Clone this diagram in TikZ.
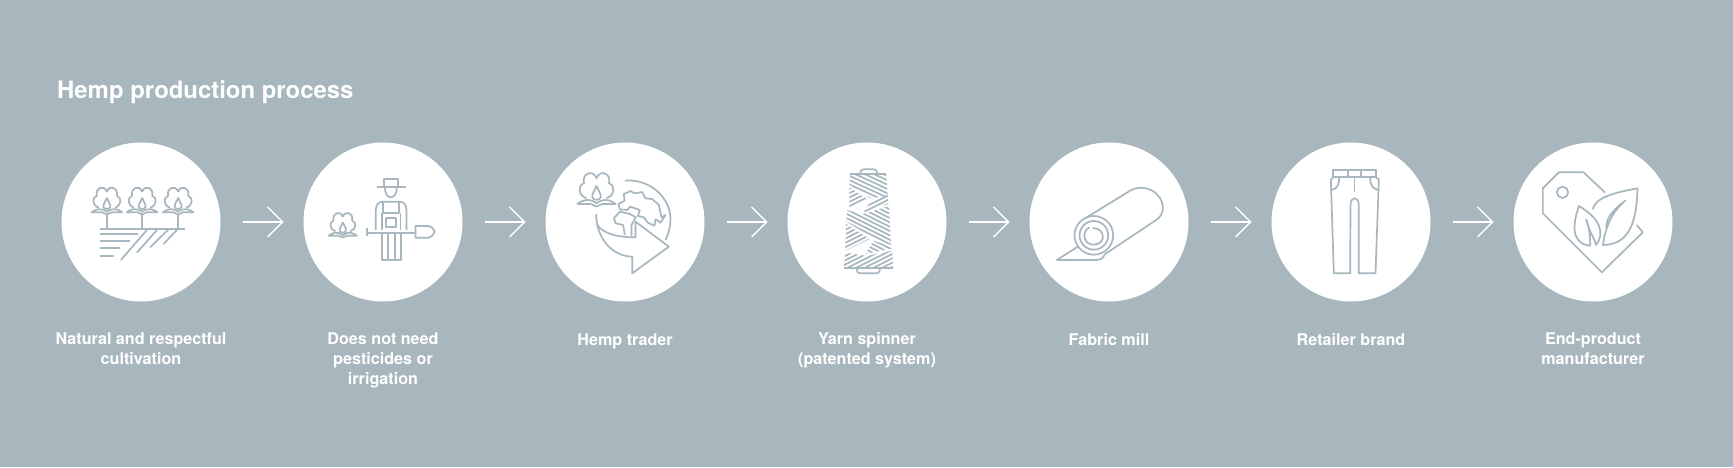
\documentclass[tikz,border=0pt]{standalone}
\usepackage{fontspec}
\setsansfont{TeX Gyre Heros}
\usetikzlibrary{arrows.meta}
\usetikzlibrary{positioning}
\usetikzlibrary{chains}
\definecolor{hempgrey}{HTML}{A7B7BD}
\tikzset{every picture/.style={/utils/exec={\sffamily\bfseries}}}
\tikzset{
  stepcircle/.style={on chain, circle, fill=white, inner sep=0pt, outer sep=0pt, minimum size=159pt},
  steplabel/.style={text=white, inner sep=0pt, align=center, font=\fontsize{16.15}{20}\selectfont, execute at begin node=\strut},
  steparrow/.style={draw=white, line width=1.3pt, shorten <=22pt, shorten >=20pt, -{Straight Barb[length=15pt,width=30pt]}},
  iconline/.style={draw=hempgrey, line width=1.7pt, line join=round}
}
% a crop pixel of the reference is a third of a point, (#2,#3) is the circle centre in the crop
\newcommand{\iconFrame}[3]{\begin{scope}[shift={(#1.center)}, x=0.3333pt, y=-0.3333pt, shift={(-#2,-#3)}]}
\newcommand{\cottonBoll}[3]{
  \begin{scope}[shift={(#1,#2)}, scale=#3]
    \draw[iconline] (-24,-14) .. controls (-44,-20) and (-46,-44) .. (-30,-50)
      .. controls (-36,-74) and (-8,-84) .. (0,-62)
      .. controls (8,-84) and (36,-74) .. (30,-50)
      .. controls (46,-44) and (44,-20) .. (24,-14);
    \draw[iconline] (0,-44) .. controls (-4,-32) and (-12,-24) .. (-10,-16) .. controls (-8,-8) and (8,-8) .. (10,-16) .. controls (12,-24) and (4,-32) .. (0,-44);
    \draw[iconline] (-46,0) .. controls (-36,-8) and (-20,-16) .. (0,-2) .. controls (20,-16) and (36,-8) .. (46,0) -- (14,0) -- (0,6) -- (-14,0) -- cycle;
  \end{scope}
}
\newcommand{\iconFields}[1]{
  \iconFrame{#1}{302.5}{276}
    \foreach \x in {200,306,414} {
      \cottonBoll{\x}{247}{1}
      \draw[iconline] (\x,252) -- (\x,296);
    }
    \draw[iconline] (178,296) -- (435,296);
    \foreach \y/\e in {312/292,333/270,355/240,378/222}
      \draw[iconline] (178,\y) -- (\e,\y);
    \draw[iconline] (322,298) -- (242,390);
    \draw[iconline] (352,298) -- (290,368);
    \draw[iconline] (385,298) -- (330,352);
    \draw[iconline] (412,298) -- (370,342);
  \end{scope}
}
\newcommand{\iconFarmer}[1]{
  \iconFrame{#1}{1027.5}{276}
    \cottonBoll{907}{317}{.92}
    \draw[iconline] (1008,172) -- (1095,172);
    \draw[iconline] (1030,172) |- (1072,148) -- (1072,172);
    \draw[iconline] (1033,172) .. controls (1033,212) and (1069,212) .. (1069,172);
    \draw[iconline] (1006,300) -- (1006,240) .. controls (1006,224) and (1014,215) .. (1028,215) -- (1076,215) .. controls (1090,215) and (1098,224) .. (1098,240) -- (1098,300);
    \draw[iconline] (1028,215) -- (1028,250) -- (1076,250) -- (1076,215);
    \draw[iconline] (1024,250) -- (1024,300);
    \draw[iconline] (1080,250) -- (1080,300);
    \draw[iconline] (1037,265) rectangle (1067,292);
    \draw[iconline] (980,293) -- (980,318);
    \draw[iconline] (980,308) -- (1125,308);
    \draw[iconline] (1125,288) -- (1165,288) .. controls (1175,292) .. (1183,305) .. controls (1175,318) .. (1165,323) -- (1125,323) -- cycle;
    \draw[iconline] (1024,308) -- (1024,390) -- (1081,390) -- (1081,308);
    \draw[iconline] (1042,308) -- (1042,390);
    \draw[iconline] (1063,308) -- (1063,390);
  \end{scope}
}
\newcommand{\iconGlobe}[1]{
  \iconFrame{#1}{283.5}{276}
    \cottonBoll{198}{222}{1.25}
    \draw[iconline] (283,152) .. controls (355,145) and (420,200) .. (420,268) .. controls (420,290) and (414,312) .. (405,330);
    \draw[iconline] (197,252) .. controls (197,320) and (240,378) .. (305,380) -- (305,430) -- (415,350) -- (315,275) -- (315,322) .. controls (270,322) and (220,315) .. (198,282);
    \draw[iconline] (264,222) -- (282,212) -- (280,192) -- (300,183) -- (312,190) -- (335,186) -- (345,205) -- (365,207) -- (385,225) -- (393,262) -- (405,255) -- (390,278) -- (375,268) -- (372,287) -- (352,278) -- (340,262) -- (322,258) -- (328,240) -- (300,230) -- (290,240) -- (268,238) -- cycle;
    \draw[iconline] (250,265) -- (268,245) -- (298,252) -- (316,262) -- (303,285) -- (303,318);
    \draw[iconline] (250,265) -- (256,280) -- (278,285) -- (283,315);
  \end{scope}
}
\newcommand{\spoolBand}[2]{
  \begin{scope}
    \clip #1;
    \foreach \y in {60,73,...,500}
      \draw[iconline] (930,\y) -- (1100,\y+#2);
  \end{scope}
}
\newcommand{\iconSpool}[1]{
  \iconFrame{#1}{1010}{276}
    \draw[iconline, rounded corners=3pt] (990,132) -- (990,118) -- (1040,118) -- (1040,132);
    \draw[iconline, rounded corners=3pt] (980,415) -- (980,430) -- (1048,430) -- (1048,415);
    \draw[iconline] (960,132) -- (1068,132);
    \draw[iconline] (940,413) -- (1088,413);
    \spoolBand{(960,132) -- (1068,132) -- (1072,198) -- (1020,205) -- (957,164) -- cycle}{78}
    \spoolBand{(957,172) -- (1012,208) -- (957,235) -- cycle}{-85}
    \spoolBand{(1024,210) -- (1072,194) -- (1074,222) -- (1000,247) -- cycle}{-85}
    \spoolBand{(950,240) -- (996,253) -- (1076,228) -- (1082,345) -- (1030,325) -- (948,275) -- cycle}{85}
    \spoolBand{(947,282) -- (1018,327) -- (945,362) -- cycle}{-85}
    \spoolBand{(1030,332) -- (1084,350) -- (1086,355) -- (1005,372) -- cycle}{85}
    \spoolBand{(945,368) -- (1010,378) -- (1086,362) -- (1088,412) -- (940,412) -- cycle}{-85}
  \end{scope}
}
\newcommand{\iconRoll}[1]{
  \iconFrame{#1}{296.5}{276}
    \draw[iconline] (251,316) circle (58);
    \draw[iconline] (251,316) circle (43);
    \draw[iconline] (248,294) .. controls (268,294) and (280,308) .. (278,324) .. controls (274,346) and (240,350) .. (228,334) .. controls (216,318) and (224,298) .. (238,292);
    \draw[iconline] (225,265) -- (360,182) .. controls (400,158) and (458,185) .. (458,235) .. controls (458,250) and (450,262) .. (438,270) -- (285,372) .. controls (275,388) and (270,390) .. (260,390) -- (140,390) -- (203,350);
  \end{scope}
}
\newcommand{\iconTrousers}[1]{
  \iconFrame{#1}{1021.5}{276}
    \draw[iconline] (968,120) rectangle (1097,142);
    \draw[iconline] (1012,120) -- (1012,142);
    \draw[iconline] (1052,120) -- (1052,142);
    \draw[iconline] (968,142) -- (961,149) -- (970,430) -- (1019,430) -- (1020,225) .. controls (1020,198) and (1045,198) .. (1045,225) -- (1045,430) -- (1095,430) -- (1105,149) -- (1097,142);
    \draw[iconline] (1032,142) -- (1032,186);
    \draw[iconline] (986,142) .. controls (986,165) and (980,176) .. (963,180);
    \draw[iconline] (1079,142) .. controls (1079,165) and (1085,176) .. (1103,180);
  \end{scope}
}
\newcommand{\iconTag}[1]{
  \iconFrame{#1}{278.5}{276}
    \draw[iconline] (315,188) -- (250,127) -- (176,127) -- (128,175) -- (128,250) -- (305,427) -- (428,307) -- (410,285);
    \draw[iconline] (187,187) circle (17);
    \draw[iconline] (278,238) .. controls (285,205) and (330,190) .. (412,175) .. controls (410,260) and (395,345) .. (308,345) .. controls (315,300) and (330,250) .. (375,212) .. controls (345,235) and (318,260) .. (318,292);
    \draw[iconline] (236,228) .. controls (222,270) and (205,340) .. (270,347) .. controls (270,320) and (268,295) .. (258,268) .. controls (265,300) and (280,320) .. (288,345) .. controls (315,310) and (300,265) .. (236,228) -- cycle;
  \end{scope}
}

\begin{document}
\begin{tikzpicture}[start chain, node distance=83pt]
  \fill[hempgrey] (0,0) rectangle (1733pt,467pt);
  \useasboundingbox (0,0) rectangle (1733pt,467pt);

  \node [text=white, inner sep=0pt, anchor=base west, font=\fontsize{23.9}{26}\selectfont] (title) at (57pt,368.7pt) {Hemp production process};

  \node [stepcircle] (cultivation) at (141pt,245pt) {};
  \node [stepcircle] (pesticides) {};
  \node [stepcircle] (trader) {};
  \node [stepcircle] (spinner) {};
  \node [stepcircle] (mill) {};
  \node [stepcircle] (retailer) {};
  \node [stepcircle] (manufacturer) {};

  \iconFields{cultivation}
  \iconFarmer{pesticides}
  \iconGlobe{trader}
  \iconSpool{spinner}
  \iconRoll{mill}
  \iconTrousers{retailer}
  \iconTag{manufacturer}

  \foreach \a/\b in {cultivation/pesticides,pesticides/trader,trader/spinner,spinner/mill,mill/retailer,retailer/manufacturer}
    \draw[steparrow] (\a) -- (\b);

  \node [steplabel, below=30.6pt of cultivation] (cultivationlabel) {Natural and respectful\\cultivation};
  \node [steplabel, below=30.6pt of pesticides] (pesticideslabel) {Does not need\\pesticides or\\irrigation};
  \node [steplabel, below=29.3pt of trader] (traderlabel) {Hemp trader};
  \node [steplabel, below=30.6pt of spinner] (spinnerlabel) {Yarn spinner\\(patented system)};
  \node [steplabel, below=29.3pt of mill] (milllabel) {Fabric mill};
  \node [steplabel, below=29.3pt of retailer] (retailerlabel) {Retailer brand};
  \node [steplabel, below=30.6pt of manufacturer] (manufacturerlabel) {End-product\\manufacturer};
\end{tikzpicture}
\end{document}
